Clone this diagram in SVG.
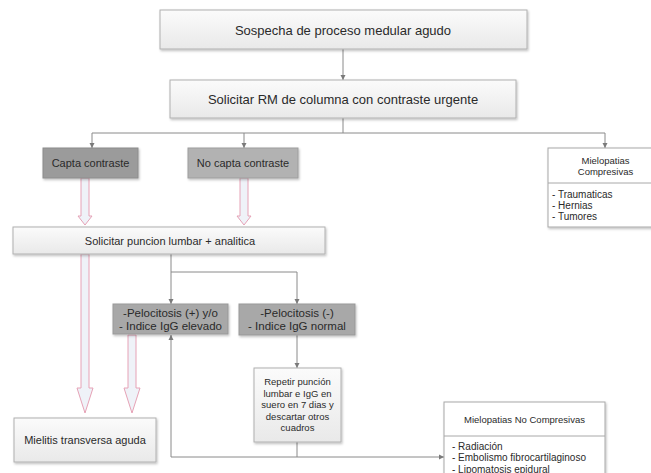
<svg xmlns="http://www.w3.org/2000/svg" width="651" height="473" viewBox="0 0 651 473">
<defs>
<linearGradient id="lg" x1="0" y1="0" x2="0" y2="1">
<stop offset="0" stop-color="#fbfbfb"/>
<stop offset="1" stop-color="#e9e9e9"/>
</linearGradient>
<filter id="sh" x="-10%" y="-20%" width="130%" height="150%">
<feDropShadow dx="1" dy="1.5" stdDeviation="1" flood-color="#000" flood-opacity="0.25"/>
</filter>
<marker id="ah" markerWidth="6" markerHeight="6" refX="5" refY="3" orient="auto" markerUnits="userSpaceOnUse">
<path d="M0,0.5 L5,3 L0,5.5 Z" fill="#7a7a7a"/>
</marker>
</defs>
<style>
text{font-family:"Liberation Sans",Arial,Helvetica,sans-serif;fill:#2a2a2a;text-anchor:middle}
.lt{fill:url(#lg);stroke:#b0b0b0;stroke-width:1;filter:url(#sh)}
.wb{fill:#fff;stroke:#a8a8a8;stroke-width:1;filter:url(#sh)}
.c{fill:none;stroke:#8a8a8a;stroke-width:1}
.ha{fill:#eff2f8;stroke:#e6a2b6;stroke-width:1}
.t13{font-size:13px}
.t11{font-size:11px}
.t12{font-size:11.5px}
.t95{font-size:9.5px}
.t92{font-size:9.5px}
.t10{font-size:10px;text-anchor:start}
</style>

<g id="connectors">
<path class="c" d="M343,49 V80" marker-end="url(#ah)"/>
<path class="c" d="M343,118 V133"/>
<path class="c" d="M92,133 H605"/>
<path class="c" d="M92,133 V148" marker-end="url(#ah)"/>
<path class="c" d="M244,133 V148" marker-end="url(#ah)"/>
<path class="c" d="M605,133 V148" marker-end="url(#ah)"/>
<path class="c" d="M171,254 V304" marker-end="url(#ah)"/>
<path class="c" d="M171,272 H297 V304" marker-end="url(#ah)"/>
<path class="c" d="M297,335 V368" marker-end="url(#ah)"/>
<path class="c" d="M297,442 V457"/>
<path class="c" d="M171,457 H444" marker-end="url(#ah)"/>
<path class="c" d="M171,457 V335" marker-end="url(#ah)"/>
<polygon class="ha" points="81,178 89,178 89,216 92,216 85,225 78,216 81,216"/>
<polygon class="ha" points="240,178 248,178 248,216 251,216 244,225 237,216 240,216"/>
<polygon class="ha" points="81,254 89,254 89,388 93,388 85,413 77,388 81,388"/>
<polygon class="ha" points="128,335 136,335 136,388 140,388 132,413 124,388 128,388"/>
</g>

<g id="n1">
<rect class="lt" x="160" y="10" width="367" height="39"/>
<text class="t13" x="343" y="34.5">Sospecha de proceso medular agudo</text>
</g>
<g id="n2">
<rect class="lt" x="170" y="80" width="346" height="38"/>
<text class="t13" x="343" y="103.5">Solicitar RM de columna con contraste urgente</text>
</g>
<g id="n3">
<rect x="43" y="148" width="95" height="30" fill="#9b9b9b" stroke="#8c8c8c" filter="url(#sh)"/>
<text class="t11" x="90.5" y="167">Capta contraste</text>
</g>
<g id="n4">
<rect x="188" y="148" width="110" height="30" fill="#b2b2b2" stroke="#9e9e9e" filter="url(#sh)"/>
<text class="t11" x="243" y="167">No capta contraste</text>
</g>
<g id="n5">
<rect class="wb" x="548" y="148" width="115" height="79"/>
<line x1="548" y1="183" x2="663" y2="183" stroke="#a8a8a8"/>
<text class="t92" x="605.5" y="164">Mielopatias</text>
<text class="t92" x="605.5" y="175">Compresivas</text>
<text class="t10" x="552" y="197.5">- Traumaticas</text>
<text class="t10" x="552" y="208.5">- Hernias</text>
<text class="t10" x="552" y="219.5">- Tumores</text>
</g>
<g id="n6">
<rect class="lt" x="13" y="227" width="312" height="27"/>
<text class="t11" x="170" y="245">Solicitar puncion lumbar + analitica</text>
</g>
<g id="n7">
<rect x="113" y="304" width="115" height="30" fill="#a8a8a8" stroke="#999" filter="url(#sh)"/>
<text class="t12" x="170.5" y="317">-Pelocitosis (+) y/o</text>
<text class="t12" x="170.5" y="330">- Indice IgG elevado</text>
</g>
<g id="n8">
<rect x="239" y="304" width="116" height="31" fill="#a8a8a8" stroke="#999" filter="url(#sh)"/>
<text class="t12" x="297" y="317">-Pelocitosis (-)</text>
<text class="t12" x="297" y="330">- Indice IgG normal</text>
</g>
<g id="n9">
<rect class="lt" x="254" y="368" width="87" height="74"/>
<text class="t95" x="297.5" y="385">Repetir punción</text>
<text class="t95" x="297.5" y="396.5">lumbar e IgG en</text>
<text class="t95" x="297.5" y="408">suero en 7 dias y</text>
<text class="t95" x="297.5" y="419.5">descartar otros</text>
<text class="t95" x="297.5" y="431">cuadros</text>
</g>
<g id="n10">
<rect class="lt" x="14" y="418" width="142" height="44"/>
<text class="t11" x="85" y="444">Mielitis transversa aguda</text>
</g>
<g id="n11">
<rect class="wb" x="444" y="402" width="161" height="80"/>
<line x1="444" y1="436" x2="605" y2="436" stroke="#a8a8a8"/>
<text class="t92" x="524.5" y="422.5">Mielopatias No Compresivas</text>
<text class="t10" x="452" y="449.5">- Radiación</text>
<text class="t10" x="452" y="461">- Embolismo fibrocartilaginoso</text>
<text class="t10" x="452" y="472.5">- Lipomatosis epidural</text>
</g>
</svg>
